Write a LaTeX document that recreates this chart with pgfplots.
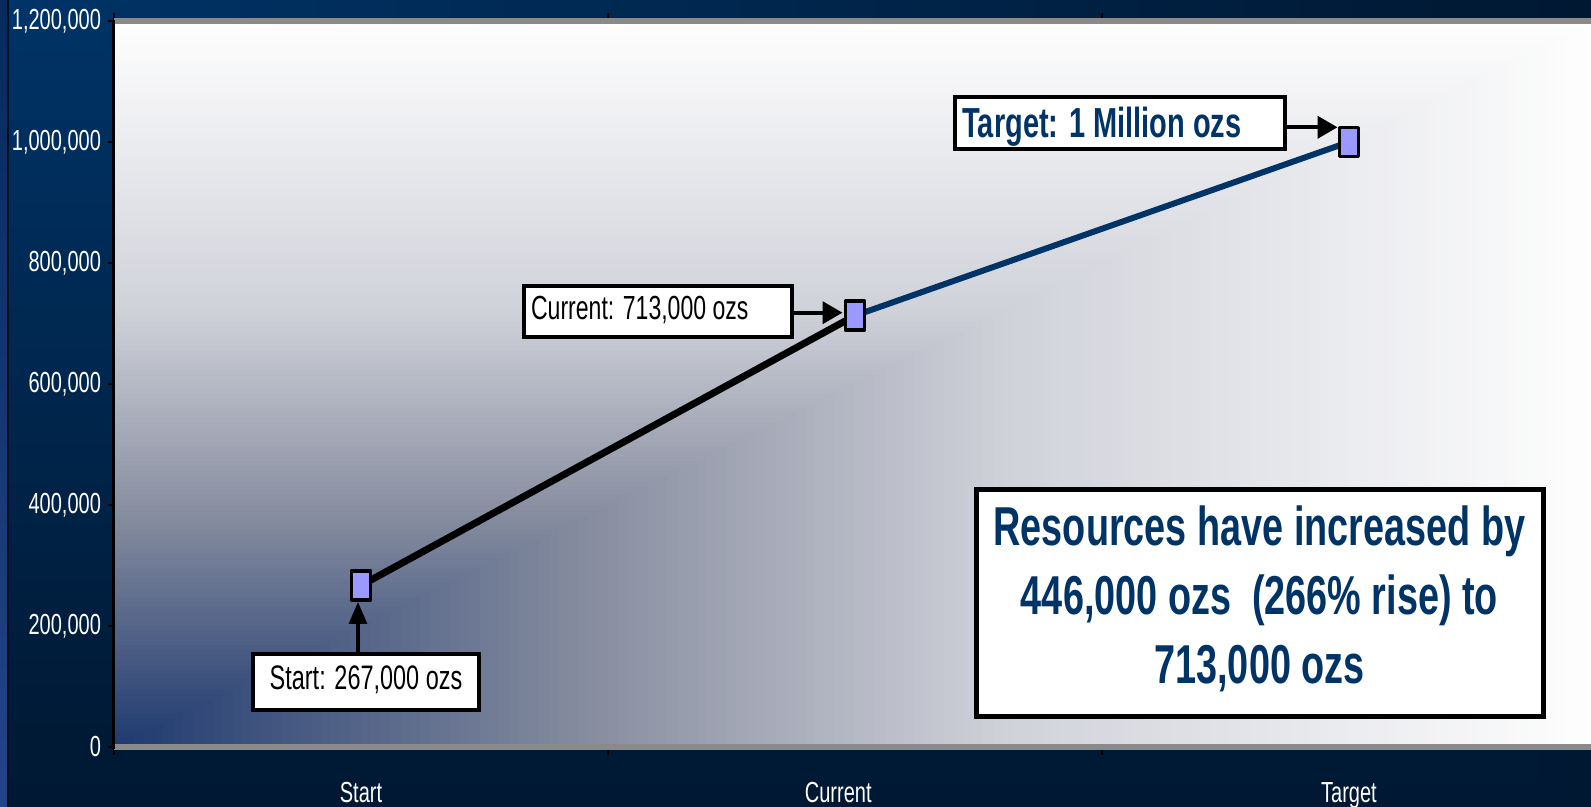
\documentclass[border=0pt]{standalone}
\usepackage{pgfplots}
\pgfplotsset{compat=1.18}
\usepackage{fontspec}
\setmainfont[FakeStretch=0.69]{Liberation Sans}
\usetikzlibrary{arrows.meta}
\definecolor{navy}{HTML}{003366}
\definecolor{lav}{HTML}{9999FF}
\definecolor{framegray}{HTML}{8A8A8A}
\pgfdeclareplotmark{tallrect}{%
  \pgfpathrectangle{\pgfqpoint{-4.7pt}{-7.2pt}}{\pgfqpoint{9.4pt}{14.4pt}}%
  \pgfusepathqfillstroke}
\begin{document}
\begin{tikzpicture}
\useasboundingbox (0,0) rectangle (795.5pt,403.5pt);
\clip (0,0) rectangle (795.5pt,403.5pt);
\begin{scope}[x=0.5pt,y=0.5pt]
  % outer background: corner gradient from top-left
  \foreach \i in {60,59,...,1}{
    \pgfmathsetmacro\s{\i/60}
    \pgfmathsetmacro\t{(\i-0.5)/60}
    \pgfmathtruncatemacro\gg{52-28*\t}
    \pgfmathtruncatemacro\bb{104-54*\t}
    \definecolor{oc}{RGB}{0,\gg,\bb}
    \fill[oc] (0,807) rectangle ({1591*\s},{807-807*\s});
  }
  % left edge strip
  \shade[top color={rgb,255:red,5;green,42;blue,92}, bottom color={rgb,255:red,35;green,68;blue,135}] (0,0) rectangle (7,807);
  \draw[color={rgb,255:red,0;green,15;blue,35}, line width=1] (7.5,0) -- (7.5,807);
  % plot area: corner gradient from bottom-left
  \foreach \i in {150,149,...,1}{
    \pgfmathsetmacro\s{\i/150}
    \pgfmathsetmacro\t{(\i-0.5)/150}
    \pgfmathtruncatemacro\rr{\t<0.33 ? 31+\t/0.33*107 : (\t<0.6 ? 138+(\t-0.33)/0.27*70 : 208+(\t-0.6)/0.4*47)}
    \pgfmathtruncatemacro\gg{\t<0.33 ? 58+\t/0.33*86 : (\t<0.6 ? 144+(\t-0.33)/0.27*66 : 210+(\t-0.6)/0.4*45)}
    \pgfmathtruncatemacro\bb{\t<0.33 ? 112+\t/0.33*50 : (\t<0.6 ? 162+(\t-0.33)/0.27*56 : 218+(\t-0.6)/0.4*37)}
    \definecolor{gc}{RGB}{\rr,\gg,\bb}
    \fill[gc] (114,60) rectangle ({114+1482*\s},{60+726*\s});
  }
\end{scope}
\begin{axis}[
  at={(57pt,30pt)}, anchor=south west,
  scale only axis, width=738.5pt, height=363pt,
  xmin=-0.5, xmax=2.49, ymin=0, ymax=1200000,
  axis line style={draw=none},
  clip=false,
  xtick={0,1,2}, xticklabels={Start,Current\kern16.7pt,Target},
  minor xtick={-0.5,0.5,1.5},
  ytick={0,200000,400000,600000,800000,1000000,1200000},
  scaled y ticks=false,
  /pgf/number format/fixed,
  /pgf/number format/1000 sep={,},
  /pgf/number format/assume math mode=true,
  tick align=outside,
  major tick length=3pt, minor tick length=4pt,
  major x tick style={draw=none},
  minor x tick style={draw=black, line width=0.8pt},
  major y tick style={draw=black, line width=0.8pt},
  ticklabel style={font=\fontsize{14.5}{16}\selectfont, text=white},
  xticklabel style={yshift=-11pt},
]
\addplot[navy, line width=3pt, forget plot] coordinates {(1,713000) (2,1000000)};
\addplot[only marks, mark=tallrect, mark options={fill=lav, draw=black, line width=1.8pt, line join=round}] coordinates {(0,267000) (1,713000) (2,1000000)};
\addplot[black, line width=3.5pt, line cap=round] coordinates {(0,267000) (1,713000)};
\end{axis}
\begin{scope}[x=0.5pt,y=0.5pt]
  % frame
  \draw[framegray, line width=3] (114,785.5) -- (1591,785.5);
  \draw[framegray, line width=3] (114,59.5) -- (1591,59.5);
  \draw[black, line width=1.5] (113.5,58) -- (113.5,787);
  % Start annotation
  \draw[-{Triangle[length=11pt,width=9pt]}, line width=1.6pt] (358,152.5) -- (358,205);
  \draw[fill=white, line width=2] (252.7,97) rectangle (479,152.5);
  \node[anchor=base, inner sep=0, font=\fontsize{17}{20}\selectfont] at (366,117.7) {Start: 267,000 ozs};
  % Current annotation
  \draw[-{Triangle[length=10pt,width=11pt]}, line width=2pt] (791.7,494.3) -- (842.5,494.3);
  \draw[fill=white, line width=2] (524,470.3) rectangle (791.7,521.3);
  \node[anchor=base west, inner sep=0, font=\fontsize{16.7}{20}\selectfont] at (530.7,487) {Current: 713,000 ozs};
  % Target annotation
  \draw[-{Triangle[length=10pt,width=11pt]}, line width=2pt] (1285,679.7) -- (1337.5,679.7);
  \draw[fill=white, line width=2] (955,657.7) rectangle (1285,710.3);
  \node[anchor=base west, inner sep=0, text=navy, font=\bfseries\fontsize{21}{24}\selectfont] at (962,669) {Target: 1 Million ozs};
  % summary box
  \draw[fill=white, line width=2.5] (976,90) rectangle (1543,317);
  \node[anchor=base, inner sep=0, text=navy, font=\bfseries\fontsize{27.4}{34}\selectfont] at (1259.5,261) {Resources have increased by};
  \node[anchor=base, inner sep=0, text=navy, font=\bfseries\fontsize{27.4}{34}\selectfont] at (1259.5,192) {446,000 ozs\ \ (266\% rise) to};
  \node[anchor=base, inner sep=0, text=navy, font=\bfseries\fontsize{27.4}{34}\selectfont] at (1259.5,123) {713,000 ozs};
\end{scope}
\end{tikzpicture}
\end{document}
